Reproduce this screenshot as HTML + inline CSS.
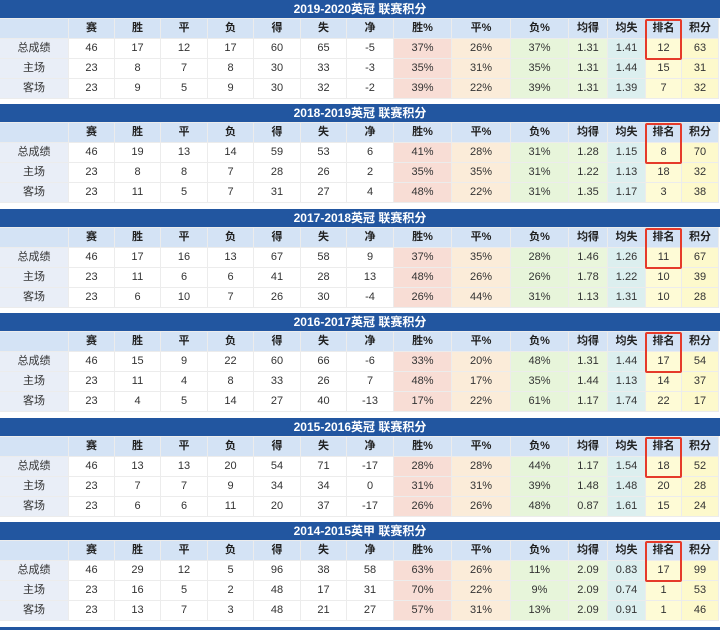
<!DOCTYPE html>
<html><head><meta charset="utf-8"><style>
*{margin:0;padding:0;box-sizing:border-box}
body{width:720px;height:630px;background:#fff;position:relative;overflow:hidden;font-family:"Liberation Sans","Noto Sans CJK SC",sans-serif;color:#333}
.blk{position:absolute;left:0;width:720px}
.t{height:18px;background:#2256a0;color:#fff;font-weight:bold;font-size:12px;text-align:center;line-height:18px}
table{border-collapse:separate;border-spacing:1px 1px;table-layout:fixed;width:720px;margin-left:-1px;font-size:11px;background:#ececec}
td{height:19px;text-align:center;line-height:19px;padding:0;white-space:nowrap}
tr.h td{background:#d4e3f5;font-weight:bold;color:#222}
td.l{background:#e9eef7}
.rb{position:absolute;left:645px;top:19px;width:37px;height:41px;border:2px solid #e53a2a;border-radius:2px}
</style></head><body>

<div class="blk" style="top:0">
<div class="t">2019-2020英冠 联赛积分</div>
<table><colgroup><col style="width:68px"><col style="width:45px;background:#fff"><col style="width:45px;background:#fff"><col style="width:46px;background:#fff"><col style="width:45px;background:#fff"><col style="width:46px;background:#fff"><col style="width:45px;background:#fff"><col style="width:46px;background:#fff"><col style="width:57px;background:#f8ddd5"><col style="width:58px;background:#fbecd9"><col style="width:57px;background:#e7f5da"><col style="width:38px;background:#eaf6dc"><col style="width:37px;background:#dcefef"><col style="width:35px;background:#fefbd6"><col style="width:36px;background:#fdf9cc"></colgroup>
<tr class="h"><td></td><td>赛</td><td>胜</td><td>平</td><td>负</td><td>得</td><td>失</td><td>净</td><td>胜%</td><td>平%</td><td>负%</td><td>均得</td><td>均失</td><td>排名</td><td>积分</td></tr>
<tr><td class="l">总成绩</td><td>46</td><td>17</td><td>12</td><td>17</td><td>60</td><td>65</td><td>-5</td><td>37%</td><td>26%</td><td>37%</td><td>1.31</td><td>1.41</td><td>12</td><td>63</td></tr>
<tr><td class="l">主场</td><td>23</td><td>8</td><td>7</td><td>8</td><td>30</td><td>33</td><td>-3</td><td>35%</td><td>31%</td><td>35%</td><td>1.31</td><td>1.44</td><td>15</td><td>31</td></tr>
<tr><td class="l">客场</td><td>23</td><td>9</td><td>5</td><td>9</td><td>30</td><td>32</td><td>-2</td><td>39%</td><td>22%</td><td>39%</td><td>1.31</td><td>1.39</td><td>7</td><td>32</td></tr>
</table><div class="rb"></div></div>

<div class="blk" style="top:104px">
<div class="t">2018-2019英冠 联赛积分</div>
<table><colgroup><col style="width:68px"><col style="width:45px;background:#fff"><col style="width:45px;background:#fff"><col style="width:46px;background:#fff"><col style="width:45px;background:#fff"><col style="width:46px;background:#fff"><col style="width:45px;background:#fff"><col style="width:46px;background:#fff"><col style="width:57px;background:#f8ddd5"><col style="width:58px;background:#fbecd9"><col style="width:57px;background:#e7f5da"><col style="width:38px;background:#eaf6dc"><col style="width:37px;background:#dcefef"><col style="width:35px;background:#fefbd6"><col style="width:36px;background:#fdf9cc"></colgroup>
<tr class="h"><td></td><td>赛</td><td>胜</td><td>平</td><td>负</td><td>得</td><td>失</td><td>净</td><td>胜%</td><td>平%</td><td>负%</td><td>均得</td><td>均失</td><td>排名</td><td>积分</td></tr>
<tr><td class="l">总成绩</td><td>46</td><td>19</td><td>13</td><td>14</td><td>59</td><td>53</td><td>6</td><td>41%</td><td>28%</td><td>31%</td><td>1.28</td><td>1.15</td><td>8</td><td>70</td></tr>
<tr><td class="l">主场</td><td>23</td><td>8</td><td>8</td><td>7</td><td>28</td><td>26</td><td>2</td><td>35%</td><td>35%</td><td>31%</td><td>1.22</td><td>1.13</td><td>18</td><td>32</td></tr>
<tr><td class="l">客场</td><td>23</td><td>11</td><td>5</td><td>7</td><td>31</td><td>27</td><td>4</td><td>48%</td><td>22%</td><td>31%</td><td>1.35</td><td>1.17</td><td>3</td><td>38</td></tr>
</table><div class="rb"></div></div>

<div class="blk" style="top:209px">
<div class="t">2017-2018英冠 联赛积分</div>
<table><colgroup><col style="width:68px"><col style="width:45px;background:#fff"><col style="width:45px;background:#fff"><col style="width:46px;background:#fff"><col style="width:45px;background:#fff"><col style="width:46px;background:#fff"><col style="width:45px;background:#fff"><col style="width:46px;background:#fff"><col style="width:57px;background:#f8ddd5"><col style="width:58px;background:#fbecd9"><col style="width:57px;background:#e7f5da"><col style="width:38px;background:#eaf6dc"><col style="width:37px;background:#dcefef"><col style="width:35px;background:#fefbd6"><col style="width:36px;background:#fdf9cc"></colgroup>
<tr class="h"><td></td><td>赛</td><td>胜</td><td>平</td><td>负</td><td>得</td><td>失</td><td>净</td><td>胜%</td><td>平%</td><td>负%</td><td>均得</td><td>均失</td><td>排名</td><td>积分</td></tr>
<tr><td class="l">总成绩</td><td>46</td><td>17</td><td>16</td><td>13</td><td>67</td><td>58</td><td>9</td><td>37%</td><td>35%</td><td>28%</td><td>1.46</td><td>1.26</td><td>11</td><td>67</td></tr>
<tr><td class="l">主场</td><td>23</td><td>11</td><td>6</td><td>6</td><td>41</td><td>28</td><td>13</td><td>48%</td><td>26%</td><td>26%</td><td>1.78</td><td>1.22</td><td>10</td><td>39</td></tr>
<tr><td class="l">客场</td><td>23</td><td>6</td><td>10</td><td>7</td><td>26</td><td>30</td><td>-4</td><td>26%</td><td>44%</td><td>31%</td><td>1.13</td><td>1.31</td><td>10</td><td>28</td></tr>
</table><div class="rb"></div></div>

<div class="blk" style="top:313px">
<div class="t">2016-2017英冠 联赛积分</div>
<table><colgroup><col style="width:68px"><col style="width:45px;background:#fff"><col style="width:45px;background:#fff"><col style="width:46px;background:#fff"><col style="width:45px;background:#fff"><col style="width:46px;background:#fff"><col style="width:45px;background:#fff"><col style="width:46px;background:#fff"><col style="width:57px;background:#f8ddd5"><col style="width:58px;background:#fbecd9"><col style="width:57px;background:#e7f5da"><col style="width:38px;background:#eaf6dc"><col style="width:37px;background:#dcefef"><col style="width:35px;background:#fefbd6"><col style="width:36px;background:#fdf9cc"></colgroup>
<tr class="h"><td></td><td>赛</td><td>胜</td><td>平</td><td>负</td><td>得</td><td>失</td><td>净</td><td>胜%</td><td>平%</td><td>负%</td><td>均得</td><td>均失</td><td>排名</td><td>积分</td></tr>
<tr><td class="l">总成绩</td><td>46</td><td>15</td><td>9</td><td>22</td><td>60</td><td>66</td><td>-6</td><td>33%</td><td>20%</td><td>48%</td><td>1.31</td><td>1.44</td><td>17</td><td>54</td></tr>
<tr><td class="l">主场</td><td>23</td><td>11</td><td>4</td><td>8</td><td>33</td><td>26</td><td>7</td><td>48%</td><td>17%</td><td>35%</td><td>1.44</td><td>1.13</td><td>14</td><td>37</td></tr>
<tr><td class="l">客场</td><td>23</td><td>4</td><td>5</td><td>14</td><td>27</td><td>40</td><td>-13</td><td>17%</td><td>22%</td><td>61%</td><td>1.17</td><td>1.74</td><td>22</td><td>17</td></tr>
</table><div class="rb"></div></div>

<div class="blk" style="top:418px">
<div class="t">2015-2016英冠 联赛积分</div>
<table><colgroup><col style="width:68px"><col style="width:45px;background:#fff"><col style="width:45px;background:#fff"><col style="width:46px;background:#fff"><col style="width:45px;background:#fff"><col style="width:46px;background:#fff"><col style="width:45px;background:#fff"><col style="width:46px;background:#fff"><col style="width:57px;background:#f8ddd5"><col style="width:58px;background:#fbecd9"><col style="width:57px;background:#e7f5da"><col style="width:38px;background:#eaf6dc"><col style="width:37px;background:#dcefef"><col style="width:35px;background:#fefbd6"><col style="width:36px;background:#fdf9cc"></colgroup>
<tr class="h"><td></td><td>赛</td><td>胜</td><td>平</td><td>负</td><td>得</td><td>失</td><td>净</td><td>胜%</td><td>平%</td><td>负%</td><td>均得</td><td>均失</td><td>排名</td><td>积分</td></tr>
<tr><td class="l">总成绩</td><td>46</td><td>13</td><td>13</td><td>20</td><td>54</td><td>71</td><td>-17</td><td>28%</td><td>28%</td><td>44%</td><td>1.17</td><td>1.54</td><td>18</td><td>52</td></tr>
<tr><td class="l">主场</td><td>23</td><td>7</td><td>7</td><td>9</td><td>34</td><td>34</td><td>0</td><td>31%</td><td>31%</td><td>39%</td><td>1.48</td><td>1.48</td><td>20</td><td>28</td></tr>
<tr><td class="l">客场</td><td>23</td><td>6</td><td>6</td><td>11</td><td>20</td><td>37</td><td>-17</td><td>26%</td><td>26%</td><td>48%</td><td>0.87</td><td>1.61</td><td>15</td><td>24</td></tr>
</table><div class="rb"></div></div>

<div class="blk" style="top:522px">
<div class="t">2014-2015英甲 联赛积分</div>
<table><colgroup><col style="width:68px"><col style="width:45px;background:#fff"><col style="width:45px;background:#fff"><col style="width:46px;background:#fff"><col style="width:45px;background:#fff"><col style="width:46px;background:#fff"><col style="width:45px;background:#fff"><col style="width:46px;background:#fff"><col style="width:57px;background:#f8ddd5"><col style="width:58px;background:#fbecd9"><col style="width:57px;background:#e7f5da"><col style="width:38px;background:#eaf6dc"><col style="width:37px;background:#dcefef"><col style="width:35px;background:#fefbd6"><col style="width:36px;background:#fdf9cc"></colgroup>
<tr class="h"><td></td><td>赛</td><td>胜</td><td>平</td><td>负</td><td>得</td><td>失</td><td>净</td><td>胜%</td><td>平%</td><td>负%</td><td>均得</td><td>均失</td><td>排名</td><td>积分</td></tr>
<tr><td class="l">总成绩</td><td>46</td><td>29</td><td>12</td><td>5</td><td>96</td><td>38</td><td>58</td><td>63%</td><td>26%</td><td>11%</td><td>2.09</td><td>0.83</td><td>17</td><td>99</td></tr>
<tr><td class="l">主场</td><td>23</td><td>16</td><td>5</td><td>2</td><td>48</td><td>17</td><td>31</td><td>70%</td><td>22%</td><td>9%</td><td>2.09</td><td>0.74</td><td>1</td><td>53</td></tr>
<tr><td class="l">客场</td><td>23</td><td>13</td><td>7</td><td>3</td><td>48</td><td>21</td><td>27</td><td>57%</td><td>31%</td><td>13%</td><td>2.09</td><td>0.91</td><td>1</td><td>46</td></tr>
</table><div class="rb"></div></div>
<div style="position:absolute;left:0;top:627px;width:720px;height:3px;background:#2256a0"></div>
</body></html>
